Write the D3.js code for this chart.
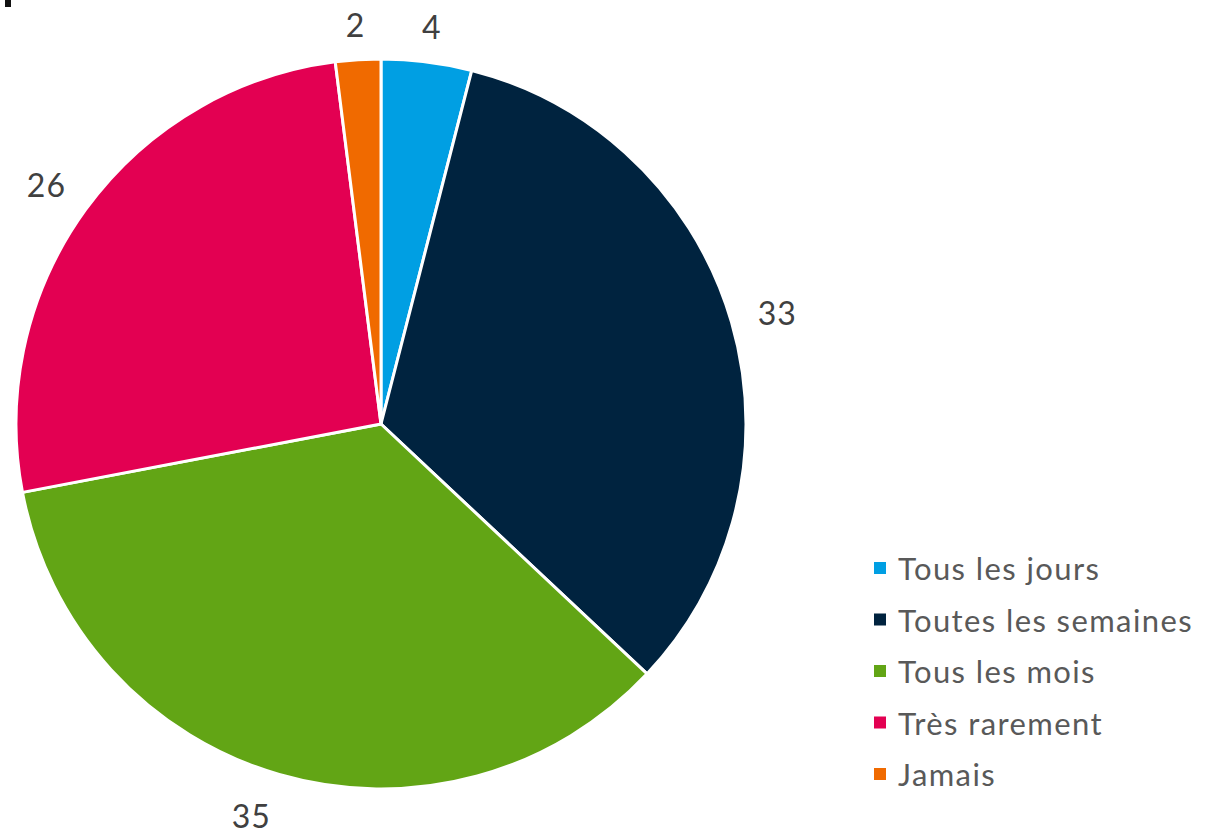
<!DOCTYPE html>
<html>
<head>
  <meta charset="utf-8">
  <title>Fréquence</title>
  <style>
    body { margin: 0; background: #fff; }
    text { font-family: Lato, "Noto Sans", sans-serif; }
  </style>
</head>
<body>
  <svg id="chart"></svg>

  <script src="https://d3js.org/d3.v7.min.js"></script>
  <script>
    // chart data
    const categories = ['Tous les jours', 'Toutes les semaines', 'Tous les mois', 'Très rarement', 'Jamais'];
    const values = [4, 33, 35, 26, 2];
    const colors = ['#009fe3', '#00233f', '#62a515', '#e30052', '#f06a00'];

    const width = 1206, height = 832;
    const cx = 381, cy = 424, radius = 365;

    const svg = d3.select('#chart')
      .attr('width', width)
      .attr('height', height);

    // little cut-off mark in the top left corner
    svg.append('rect')
      .attr('x', 5).attr('y', 0)
      .attr('width', 6).attr('height', 7)
      .attr('fill', '#111');

    const data = categories.map((c, i) => ({ name: c, value: values[i], color: colors[i] }));

    const pie = d3.pie()
      .value(d => d.value)
      .sort(null);

    const arc = d3.arc()
      .innerRadius(0)
      .outerRadius(radius);

    const g = svg.append('g')
      .attr('transform', `translate(${cx}, ${cy})`);

    const arcs = pie(data);

    g.selectAll('path')
      .data(arcs)
      .enter()
      .append('path')
      .attr('d', arc)
      .attr('fill', d => d.data.color)
      .attr('stroke', '#fff')
      .attr('stroke-width', 3)
      .attr('stroke-linejoin', 'round');

    // value labels just outside the slices
    g.selectAll('.lbl')
      .data(arcs)
      .enter()
      .append('text')
      .attr('class', 'lbl')
      .attr('text-anchor', 'middle')
      .attr('dominant-baseline', 'central')
      .attr('font-size', 32)
      .attr('letter-spacing', 1)
      .attr('fill', '#404040')
      .attr('transform', d => {
        const a = (d.startAngle + d.endAngle) / 2 + (Math.cos((d.startAngle + d.endAngle) / 2) < -0.5 ? 0.04 : 0);
        const w = String(d.data.value).length * 18;
        const r = radius + 27 + Math.abs(Math.sin(a)) * w / 2 + Math.abs(Math.cos(a)) * 12;
        return `translate(${Math.sin(a) * r}, ${-Math.cos(a) * r + 4})`;
      })
      .text(d => d.data.value);

    // legend
    const legend = svg.append('g')
      .attr('transform', 'translate(874, 568)');

    const rows = legend.selectAll('g')
      .data(data)
      .enter()
      .append('g')
      .attr('transform', (d, i) => `translate(0, ${i * 51.5})`);

    rows.append('rect')
      .attr('x', 0).attr('y', -6)
      .attr('width', 12).attr('height', 12)
      .attr('fill', d => d.color);

    rows.append('text')
      .attr('x', 24)
      .attr('y', 0)
      .attr('dominant-baseline', 'central')
      .attr('font-size', 31)
      .attr('letter-spacing', 1.4)
      .attr('fill', '#595959')
      .text(d => d.name);
  </script>
</body>
</html>
